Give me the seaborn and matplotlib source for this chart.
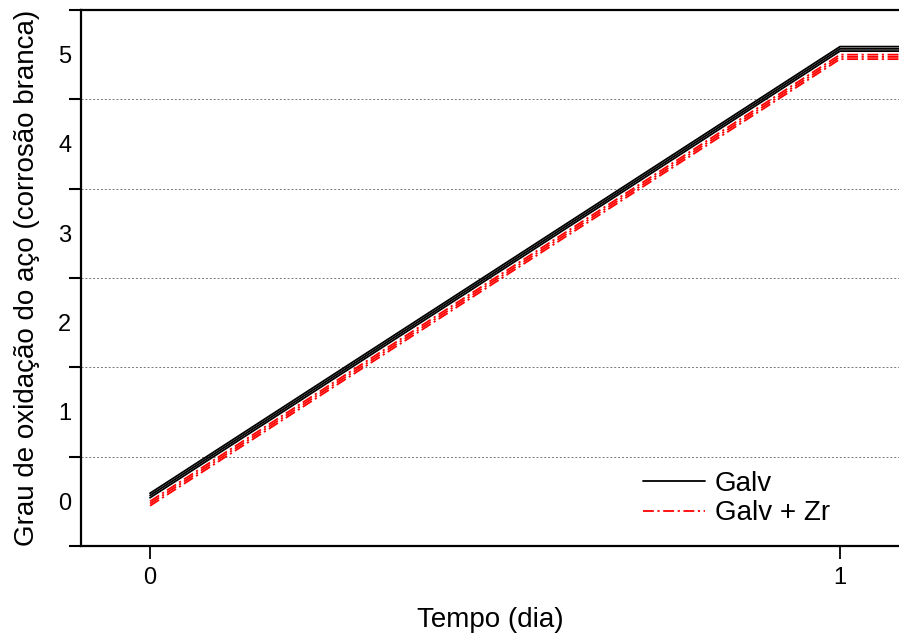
import matplotlib
matplotlib.use("Agg")
import matplotlib.pyplot as plt
from matplotlib.lines import Line2D
import seaborn as sns
import pandas as pd
import numpy as np

# Tempo (dias) and grau de oxidação for each replicate
tempo = [0, 1, 2]
galv_1 = [0.09, 5.09, 5.09]
galv_2 = [0.065, 5.065, 5.065]
galv_3 = [0.04, 5.04, 5.04]
galv_zr_1 = [0.00, 5.00, 5.00]
galv_zr_2 = [-0.025, 4.975, 4.975]
galv_zr_3 = [-0.05, 4.95, 4.95]

series_labels = ["Galv", "Galv + Zr"]
y_labels = ["0", "1", "2", "3", "4", "5"]
x_labels = ["0", "1"]

rows = []
for serie, reps in [("Galv", [galv_1, galv_2, galv_3]),
                    ("Galv + Zr", [galv_zr_1, galv_zr_2, galv_zr_3])]:
    for r, vals in enumerate(reps):
        for t, v in zip(tempo, vals):
            rows.append({"tempo": t, "grau": v, "serie": serie, "rep": f"{serie}-{r}"})
df = pd.DataFrame(rows)

sns.set_style("white")
plt.rcParams["font.family"] = ["Liberation Sans", "DejaVu Sans"]
plt.rcParams["text.color"] = "black"
plt.rcParams["axes.labelcolor"] = "black"
plt.rcParams["xtick.color"] = "black"
plt.rcParams["ytick.color"] = "black"

fig = plt.figure(figsize=(8.99, 6.38), dpi=100)
ax = fig.add_axes([81 / 899, 1 - 546 / 638, 1 - 81 / 899, (546 - 10) / 638])

colors = {"Galv": "black", "Galv + Zr": "#ff0000"}
dash_styles = {"Galv": "", "Galv + Zr": (6, 2, 1.2, 2)}

sns.lineplot(data=df, x="tempo", y="grau", hue="serie", style="serie",
             units="rep", estimator=None, palette=colors, dashes=dash_styles,
             linewidth=1.3, legend=False, ax=ax, sort=False)

ax.set_xlim(-0.1, 1.0855)
ax.set_ylim(-0.5, 5.5)

# x ticks
ax.set_xticks([0, 1])
ax.set_xticklabels(x_labels, fontsize=17)
ax.tick_params(axis="x", which="major", direction="out", length=9, width=1.3,
               pad=6, bottom=True, colors="black")

# y: ticks at half values (with grid), labels at integers
ax.set_yticks(np.arange(-0.5, 5.6, 1.0))
ax.set_yticklabels([])
ax.set_yticks(np.arange(0, 6, 1), minor=True)
ax.set_yticklabels(y_labels, minor=True, fontsize=17)
ax.tick_params(axis="y", which="major", direction="out", length=9, width=1.5,
               left=True, colors="black")
ax.tick_params(axis="y", which="minor", length=0, pad=7, colors="black")
ax.yaxis.grid(True, which="major", linestyle=(0, (2, 2)), color="#777777",
              linewidth=0.7)
ax.xaxis.grid(False)

for side in ["left", "bottom", "top"]:
    ax.spines[side].set_visible(True)
    ax.spines[side].set_linewidth(1.6)
    ax.spines[side].set_color("black")
ax.spines["right"].set_visible(False)

ax.set_xlabel("Tempo (dia)", fontsize=20, labelpad=13, color="black")
ax.set_ylabel("Grau de oxidação do aço (corrosão branca)", fontsize=20,
              labelpad=13, color="black")

handles = [Line2D([0], [0], color="black", lw=1.3),
           Line2D([0], [0], color="#ff0000", lw=1.3, dashes=(6, 2, 1.2, 2))]
leg = fig.legend(handles, series_labels, loc="upper left",
                 bbox_to_anchor=(643 / 899, 1 - 471 / 638),
                 frameon=False, fontsize=20, handlelength=2.23,
                 handletextpad=0.36, labelspacing=0.12, borderpad=0,
                 borderaxespad=0)
for t in leg.get_texts():
    t.set_color("black")

fig.savefig("out.png", dpi=100)
